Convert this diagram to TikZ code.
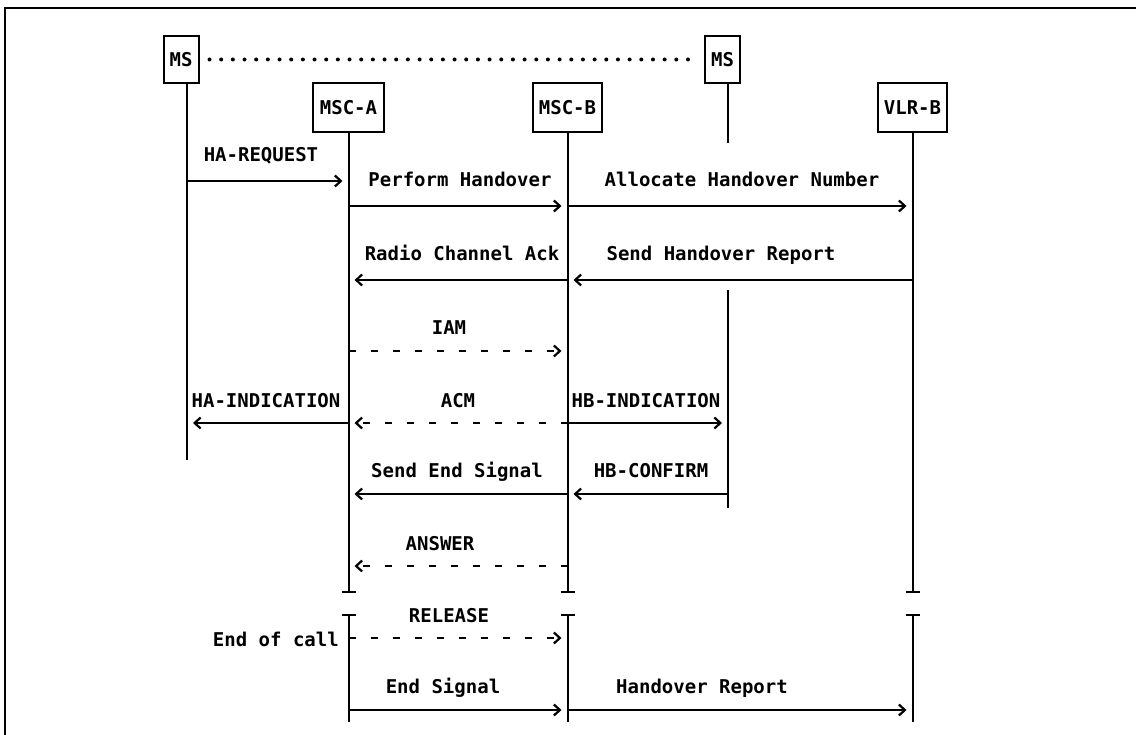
\documentclass[tikz,border=0pt]{standalone}
\usepackage{fontspec}
\setmainfont{DejaVu Sans Mono}
\usetikzlibrary{arrows.meta}
\begin{document}
\begin{tikzpicture}[x=1pt,y=-1pt,
  every node/.style={font=\fontsize{19}{22}\selectfont\bfseries, inner sep=0pt},
  ent/.style={draw, line width=2pt},
  lbl/.style={anchor=base},
  life/.style={line width=2pt},
  msg/.style={line width=1.8pt, -{Straight Barb[length=6pt,width=11pt,line width=2.2pt]}, shorten >=6pt},
  dmsg/.style={msg, dash pattern=on 7pt off 15pt}
]
\useasboundingbox (0,0) rectangle (1136,735);
% frame
\draw[line width=2.4pt] (1136,8) -- (5,8) -- (5,735);

% entities
\node[ent, minimum width=35pt, minimum height=47pt] (ms1) at (181,59.5) {MS};
\node[ent, minimum width=35pt, minimum height=47pt] (ms2) at (722.5,59.5) {MS};
\node[ent, minimum width=71pt, minimum height=49pt] (mscA) at (348.5,107.5) {MSC-A};
\node[ent, minimum width=69pt, minimum height=49pt] (mscB) at (567.5,107.5) {MSC-B};
\node[ent, minimum width=69pt, minimum height=49pt] (vlrB) at (912.5,107.5) {VLR-B};

\draw[line width=4pt, line cap=round, dash pattern=on 0pt off 11.67pt, shorten <=10pt, shorten >=10pt] (ms1.east) -- (ms2.west);

% lifeline anchors
\coordinate (ms1x) at (187,460);
\coordinate (ms2x) at (728,143);
\coordinate (ms2a) at (728,290);
\coordinate (ms2b) at (728,508);
\coordinate (cut1) at (0,592);
\coordinate (cut2) at (0,615);
\coordinate (bot) at (0,722);

\draw[life] (ms1.south -| ms1x) -- (ms1x);
\draw[life] (ms2.south -| ms2x) -- (ms2x);
\draw[life] (ms2a) -- (ms2b);
\foreach \n in {mscA,mscB,vlrB}{
  \draw[life] (\n.south) -- (\n.south |- cut1);
  \draw[life] ([xshift=-7pt]\n.south |- cut1) -- ([xshift=7pt]\n.south |- cut1);
  \draw[life] (\n.south |- cut2) -- (\n.south |- bot);
  \draw[life] ([xshift=-7pt]\n.south |- cut2) -- ([xshift=7pt]\n.south |- cut2);
}

% message rows
\coordinate (r1) at (0,181);
\coordinate (r2) at (0,206);
\coordinate (r3) at (0,280);
\coordinate (r4) at (0,351);
\coordinate (r5) at (0,423);
\coordinate (r6) at (0,494);
\coordinate (r7) at (0,566);
\coordinate (r8) at (0,638);
\coordinate (r9) at (0,710);

% labels
\node[lbl] (tHAreq) at (261,162) {HA-REQUEST};
\node[lbl] (tPerf) at (460,187) {Perform Handover};
\node[lbl] (tAlloc) at (742,187) {Allocate Handover Number};
\node[lbl] (tRadio) at (462,261) {Radio Channel Ack};
\node[lbl] (tSendHR) at (721,261) {Send Handover Report};
\node[lbl] (tIAM) at (449,335) {IAM};
\node[lbl] (tHAind) at (266,407) {HA-INDICATION};
\node[lbl] (tACM) at (458,407) {ACM};
\node[lbl] (tHBind) at (646,407) {HB-INDICATION};
\node[lbl] (tSES) at (457,477) {Send End Signal};
\node[lbl] (tHBconf) at (651,477) {HB-CONFIRM};
\node[lbl] (tAns) at (440,550) {ANSWER};
\node[lbl] (tRel) at (449,622) {RELEASE};
\node[lbl, anchor=base east] (tEoc) at (339,646) {End of call};
\node[lbl] (tES) at (443,693) {End Signal};
\node[lbl] (tHR) at (702,693) {Handover Report};

% messages
\draw[msg] (ms1x |- r1) -- (mscA |- r1);
\draw[msg] (mscA |- r2) -- (mscB |- r2);
\draw[msg] (mscB |- r2) -- (vlrB |- r2);
\draw[msg] (mscB |- r3) -- (mscA |- r3);
\draw[msg] (vlrB |- r3) -- (mscB |- r3);
\draw[dmsg] (mscA |- r4) -- (mscB |- r4);
\draw[msg] (mscA |- r5) -- (ms1x |- r5);
\draw[dmsg] (mscB |- r5) -- (mscA |- r5);
\draw[msg] (mscB |- r5) -- (ms2x |- r5);
\draw[msg] (mscB |- r6) -- (mscA |- r6);
\draw[msg] (ms2x |- r6) -- (mscB |- r6);
\draw[dmsg] (mscB |- r7) -- (mscA |- r7);
\draw[dmsg] (mscA |- r8) -- (mscB |- r8);
\draw[msg] (mscA |- r9) -- (mscB |- r9);
\draw[msg] (mscB |- r9) -- (vlrB |- r9);
\end{tikzpicture}
\end{document}
